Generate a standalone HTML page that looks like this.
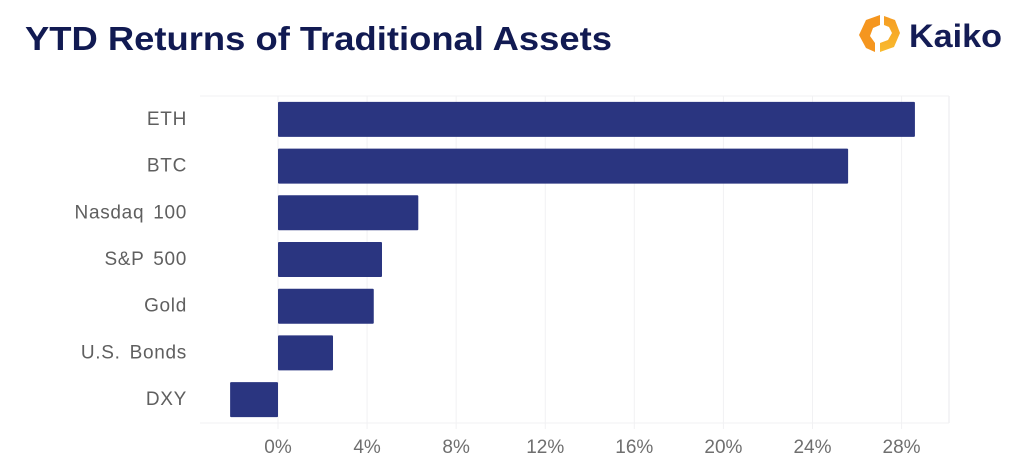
<!DOCTYPE html>
<html lang="en">
<head>
<meta charset="utf-8">
<title>YTD Returns of Traditional Assets</title>
<style>
html,body{margin:0;padding:0;background:#fff;}
body{width:1024px;height:473px;overflow:hidden;}
svg{display:block;font-family:"Liberation Sans",sans-serif;}
</style>
</head>
<body>
<svg id="chart" width="1024" height="473" viewBox="0 0 1024 473">
  <defs>
    <linearGradient id="logo-right-fill" x1="0" y1="0" x2="0" y2="1">
      <stop offset="0" stop-color="#f59c22"/>
      <stop offset="1" stop-color="#f9bb2e"/>
    </linearGradient>
  </defs>
  <text x="25" y="50" font-size="33" font-weight="700" fill="#111a52" textLength="587" lengthAdjust="spacingAndGlyphs">YTD Returns of Traditional Assets</text>
  <g>
    <polygon points="880,15 866,20 859,35 866,48 875,52 875,43 870,36 873,28 880,25" fill="#f5961f"/>
    <polygon points="884,16 895,20 900,33 894,47 880,52 880,43 888,40 892,33 889,27 884,25" fill="url(#logo-right-fill)"/>
    <text x="909" y="47" font-size="32" font-weight="700" fill="#141c55" textLength="93" lengthAdjust="spacingAndGlyphs">Kaiko</text>
  </g>
  <g id="grid"></g>
  <g id="bars"></g>
  <g id="y-labels"></g>
  <g id="x-labels"></g>
</svg>
<script>
const categories = ['ETH', 'BTC', 'Nasdaq 100', 'S&P 500', 'Gold', 'U.S. Bonds', 'DXY'];
const returnsPct = [28.6, 25.6, 6.3, 4.67, 4.3, 2.47, -2.15];
const tickValues = [0, 4, 8, 12, 16, 20, 24, 28];

const NS = 'http://www.w3.org/2000/svg';
const plotLeft = 200, plotRight = 949, plotTop = 96, plotBottom = 423;
const zeroX = 278, pxPerPct = 22.27;
const bandH = (plotBottom - plotTop) / categories.length;
const barH = 35;

function xScale(v) { return zeroX + v * pxPerPct; }
function yBand(i) { return plotTop + i * bandH + bandH / 2; }
function make(tag, attrs, parent) {
  const el = document.createElementNS(NS, tag);
  for (const k in attrs) el.setAttribute(k, attrs[k]);
  parent.appendChild(el);
  return el;
}

const grid = document.getElementById('grid');
const bars = document.getElementById('bars');
const yLabels = document.getElementById('y-labels');
const xLabels = document.getElementById('x-labels');

const frameColor = '#f1f1f3';
const topLine = make('line', {x1: plotLeft, x2: plotRight, y1: plotTop, y2: plotTop, stroke: frameColor, 'stroke-width': 1}, grid);


const bottomLine = make('line', {x1: plotLeft, x2: plotRight, y1: plotBottom, y2: plotBottom, stroke: frameColor, 'stroke-width': 1}, grid);


const rightLine = make('line', {x1: plotRight, x2: plotRight, y1: plotTop, y2: plotBottom, stroke: frameColor, 'stroke-width': 1.5}, grid);



tickValues.forEach(function (t) {
  const x = xScale(t);
  const line = make('line', {x1: x, x2: x, y1: plotTop, y2: plotBottom + 6, stroke: frameColor, 'stroke-width': 1}, grid);
  
  
  const label = make('text', {x: x, y: 453, 'font-size': 19, fill: '#6f6f6f', 'text-anchor': 'middle'}, xLabels);
  label.textContent = t + '%';
  
  
});

categories.forEach(function (name, i) {
  const v = returnsPct[i];
  const x0 = Math.min(xScale(0), xScale(v));
  const w = Math.abs(xScale(v) - xScale(0));
  const rect = make('rect', {x: x0, y: yBand(i) - barH / 2, width: w, height: barH, fill: '#2a3580', rx: 1}, bars);
  
  
  const label = make('text', {x: 187, y: yBand(i) + 5.5, 'font-size': 19, 'letter-spacing': 0.7, 'word-spacing': 3, fill: '#5f5f5f', 'text-anchor': 'end'}, yLabels);
  label.textContent = name;
  
  
});
</script>
</body>
</html>
